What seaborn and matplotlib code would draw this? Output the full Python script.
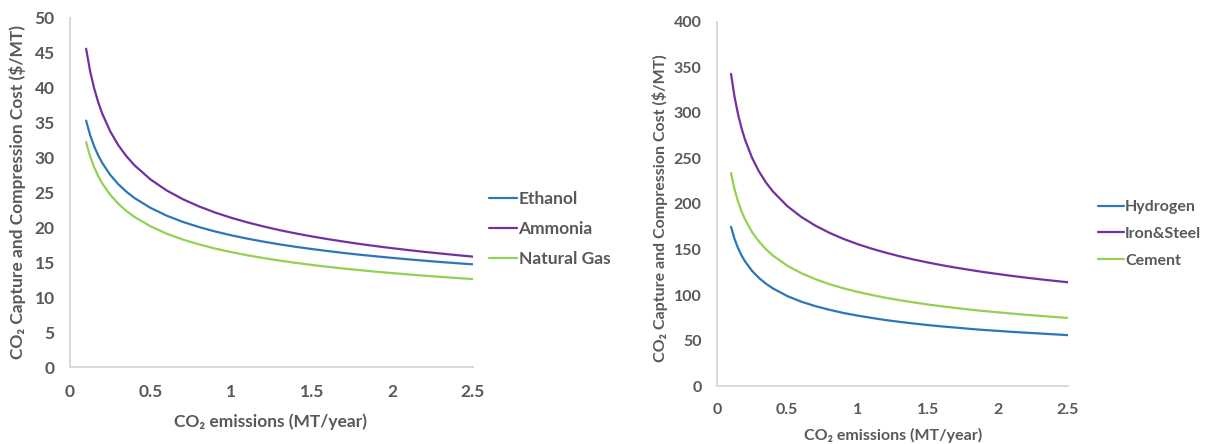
import matplotlib
matplotlib.use("Agg")
import matplotlib.pyplot as plt
import seaborn as sns
import pandas as pd

# CO2 emissions (MT/year)
emissions = [0.1, 0.125, 0.15, 0.175, 0.2, 0.25, 0.3, 0.35, 0.4, 0.5, 0.6, 0.7, 0.8, 0.9, 1.0,
             1.1, 1.2, 1.3, 1.4, 1.5, 1.6, 1.7, 1.8, 1.9, 2.0, 2.1, 2.2, 2.3, 2.4, 2.5]

# capture and compression cost ($/MT), high-purity sources
ethanol = [35.30, 33.22, 31.61, 30.32, 29.24, 27.51, 26.18, 25.11, 24.21, 22.79, 21.68, 20.79, 20.05, 19.42, 18.87,
           18.39, 17.96, 17.57, 17.22, 16.90, 16.61, 16.33, 16.08, 15.85, 15.63, 15.42, 15.23, 15.04, 14.87, 14.71]
ammonia = [45.60, 42.37, 39.91, 37.94, 36.31, 33.74, 31.77, 30.20, 28.90, 26.86, 25.29, 24.04, 23.01, 22.13, 21.38,
           20.72, 20.14, 19.61, 19.14, 18.71, 18.32, 17.96, 17.62, 17.31, 17.02, 16.75, 16.49, 16.26, 16.03, 15.81]
natural_gas = [32.21, 30.18, 28.62, 27.36, 26.31, 24.66, 23.38, 22.35, 21.50, 20.15, 19.10, 18.26, 17.57, 16.97, 16.46,
               16.01, 15.61, 15.25, 14.92, 14.62, 14.35, 14.10, 13.87, 13.65, 13.45, 13.26, 13.08, 12.91, 12.75, 12.60]

# capture and compression cost ($/MT), low-purity sources
hydrogen = [175.0, 161.7, 151.6, 143.5, 136.9, 126.5, 118.6, 112.3, 107.1, 98.9, 92.7, 87.8, 83.8, 80.3, 77.4,
            74.9, 72.5, 70.5, 68.7, 67.0, 65.5, 64.2, 62.8, 61.6, 60.6, 59.5, 58.6, 57.7, 56.8, 55.9]
iron_steel = [343.0, 317.8, 298.6, 283.2, 270.6, 250.7, 235.5, 223.4, 213.5, 197.8, 185.8, 176.3, 168.4, 161.7, 156.0,
              151.0, 146.6, 142.6, 139.0, 135.8, 132.8, 130.1, 127.6, 125.2, 123.1, 121.0, 119.1, 117.3, 115.6, 114.0]
cement = [234.0, 216.2, 202.7, 191.9, 183.1, 169.1, 158.6, 150.1, 143.2, 132.3, 124.0, 117.4, 112.0, 107.4, 103.5,
          100.1, 97.0, 94.3, 91.9, 89.6, 87.6, 85.8, 84.0, 82.4, 81.0, 79.6, 78.3, 77.1, 75.9, 74.8]

left_names = ["Ethanol", "Ammonia", "Natural Gas"]
right_names = ["Hydrogen", "Iron&Steel", "Cement"]
x_ticks = [0, 0.5, 1, 1.5, 2, 2.5]
x_tick_labels = ["0", "0.5", "1", "1.5", "2", "2.5"]
left_y_ticks = list(range(0, 51, 5))
right_y_ticks = list(range(0, 401, 50))

BLUE = "#2b77b8"
PURPLE = "#7231a1"
GREEN = "#93d152"
TEXT = "#595959"
SPINE = "#d9d9d9"


def long_frame(names, series):
    parts = []
    for name, vals in zip(names, series):
        parts.append(pd.DataFrame({"emissions": emissions, "cost": vals, "source": name}))
    return pd.concat(parts, ignore_index=True)


sns.set_theme(style="white")
plt.rcParams["font.family"] = ["Lato", "DejaVu Sans"]
plt.rcParams["text.color"] = TEXT

fig = plt.figure(figsize=(12.15, 4.44), dpi=100)
ax1 = fig.add_axes([0.0576, 0.1734, 0.3317, 0.7861])
ax2 = fig.add_axes([0.5901, 0.1306, 0.2889, 0.8199])

df_left = long_frame(left_names, [ethanol, ammonia, natural_gas])
df_right = long_frame(right_names, [hydrogen, iron_steel, cement])

sns.lineplot(data=df_left, x="emissions", y="cost", hue="source", hue_order=left_names,
             palette=[BLUE, PURPLE, GREEN], linewidth=1.6, ax=ax1, legend=True)
sns.lineplot(data=df_right, x="emissions", y="cost", hue="source", hue_order=right_names,
             palette=[BLUE, PURPLE, GREEN], linewidth=1.6, ax=ax2, legend=True)

panels = [
    # axes, y ticks, y max, tick size, label size, ylabel pos, xlabel pos, legend anchor, spacing
    (ax1, left_y_ticks, 50, 12.5, 12.5, (-0.130, 0.5), (0.498, -0.157), (0.4025, 0.4842), 0.82),
    (ax2, right_y_ticks, 400, 11.5, 11.5, (-0.162, 0.49), (0.501, -0.137), (0.9037, 0.473), 0.8),
]

for ax, yticks, ytop, tick_fs, lab_fs, ylab_xy, xlab_xy, leg_xy, spacing in panels:
    ax.set_xlim(0, 2.5)
    ax.set_ylim(0, ytop)
    ax.set_xticks(x_ticks)
    ax.set_xticklabels(x_tick_labels)
    ax.set_yticks(yticks)
    ax.tick_params(axis="both", length=0, labelsize=tick_fs, labelcolor=TEXT)
    ax.tick_params(axis="x", pad=12)
    ax.tick_params(axis="y", pad=11)
    for lbl in ax.get_xticklabels() + ax.get_yticklabels():
        lbl.set_fontweight("bold")
    for side in ["top", "right"]:
        ax.spines[side].set_visible(False)
    for side in ["left", "bottom"]:
        ax.spines[side].set_color(SPINE)
        ax.spines[side].set_linewidth(1.4)
    ax.grid(False)

    ax.set_ylabel("CO\u2082 Capture and Compression Cost ($/MT)", fontsize=lab_fs,
                  fontweight="bold", color=TEXT)
    ax.set_xlabel("CO\u2082 emissions (MT/year)", fontsize=lab_fs,
                  fontweight="bold", color=TEXT)
    ax.yaxis.set_label_coords(*ylab_xy)
    ax.xaxis.set_label_coords(*xlab_xy)
    ax.yaxis.label.set_va("center")
    ax.xaxis.label.set_va("center")

    handles, labels = ax.get_legend_handles_labels()
    leg = ax.legend(handles, labels, loc="center left", bbox_to_anchor=leg_xy,
                    bbox_transform=fig.transFigure, frameon=False, borderpad=0,
                    borderaxespad=0, handlelength=1.6, handletextpad=0.1,
                    labelspacing=spacing, prop={"size": lab_fs, "weight": "bold"})
    for t in leg.get_texts():
        t.set_color(TEXT)

fig.savefig("out.png", dpi=100, facecolor="white")
